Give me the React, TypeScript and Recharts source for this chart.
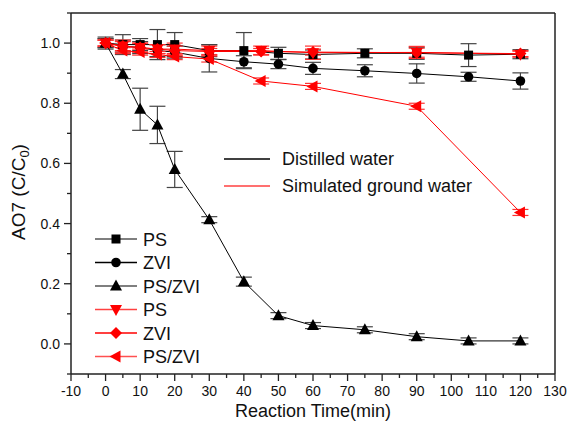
import { LineChart, Line, XAxis, YAxis, ErrorBar, ReferenceLine, Label } from 'recharts';

// reaction times (min)
const distilledTime = [0, 5, 10, 15, 20, 30, 40, 50, 60, 75, 90, 105, 120];
const groundTime = [0, 5, 10, 15, 20, 30, 45, 60, 90, 120];

// distilled water
const dwPS = [1.0, 0.995, 0.995, 0.995, 0.995, 0.975, 0.975, 0.966, 0.962, 0.966, 0.966, 0.96, 0.963];
const dwPSErr = [0.02, 0.033, 0.02, 0.05, 0.04, 0.02, 0.06, 0.02, 0.015, 0.015, 0.02, 0.038, 0.015];
const dwZVI = [1.0, 0.99, 0.985, 0.975, 0.97, 0.949, 0.938, 0.93, 0.916, 0.908, 0.899, 0.888, 0.874];
const dwZVIErr = [0.015, 0.02, 0.02, 0.02, 0.02, 0.045, 0.02, 0.015, 0.02, 0.02, 0.032, 0.015, 0.027];
const dwPSZVI = [1.0, 0.897, 0.78, 0.728, 0.58, 0.413, 0.207, 0.094, 0.061, 0.047, 0.024, 0.01, 0.01];
const dwPSZVIErr = [0.015, 0.015, 0.07, 0.062, 0.06, 0.01, 0.015, 0.01, 0.01, 0.01, 0.01, 0.01, 0.01];

// simulated ground water
const gwPS = [1.0, 0.99, 0.985, 0.98, 0.98, 0.975, 0.975, 0.968, 0.969, 0.963];
const gwPSErr = [0.01, 0.02, 0.015, 0.015, 0.02, 0.015, 0.015, 0.022, 0.02, 0.01];
const gwZVI = [1.0, 0.99, 0.985, 0.98, 0.975, 0.972, 0.972, 0.97, 0.968, 0.965];
const gwZVIErr = [0.01, 0.015, 0.015, 0.015, 0.015, 0.01, 0.01, 0.01, 0.015, 0.01];
const gwPSZVI = [1.0, 0.975, 0.97, 0.962, 0.955, 0.947, 0.874, 0.856, 0.79, 0.437];
const gwPSZVIErr = [0.01, 0.01, 0.01, 0.01, 0.01, 0.01, 0.01, 0.01, 0.01, 0.01];

const xTicks = [-10, -5, 0, 5, 10, 15, 20, 25, 30, 35, 40, 45, 50, 55, 60, 65, 70, 75, 80, 85, 90, 95, 100, 105, 110, 115, 120, 125, 130];
const yTicks = [-0.1, 0, 0.1, 0.2, 0.3, 0.4, 0.5, 0.6, 0.7, 0.8, 0.9, 1.0, 1.1];

const distilledRows = distilledTime.map((t, i) => ({
  t,
  ps: dwPS[i], psErr: dwPSErr[i],
  zvi: dwZVI[i], zviErr: dwZVIErr[i],
  pszvi: dwPSZVI[i], pszviErr: dwPSZVIErr[i],
}));

const groundRows = groundTime.map((t, i) => ({
  t,
  ps: gwPS[i], psErr: gwPSErr[i],
  zvi: gwZVI[i], zviErr: gwZVIErr[i],
  pszvi: gwPSZVI[i], pszviErr: gwPSZVIErr[i],
}));

const FONT = '"Liberation Sans", Arial, sans-serif';
const RED = '#ff0000';

type Shape = 'square' | 'circle' | 'up' | 'down' | 'diamond' | 'left';

function Marker({ shape, cx, cy, color }: { shape: Shape; cx: number; cy: number; color: string }) {
  if (cx == null || cy == null) return null;
  switch (shape) {
    case 'square':
      return <rect x={cx - 4.5} y={cy - 4.5} width={9} height={9} fill={color} />;
    case 'circle':
      return <circle cx={cx} cy={cy} r={4.8} fill={color} />;
    case 'up':
      return <polygon points={`${cx},${cy - 6.5} ${cx - 6},${cy + 4.5} ${cx + 6},${cy + 4.5}`} fill={color} />;
    case 'down':
      return <polygon points={`${cx - 6},${cy - 4.5} ${cx + 6},${cy - 4.5} ${cx},${cy + 6.5}`} fill={color} />;
    case 'diamond':
      return <polygon points={`${cx},${cy - 6} ${cx + 6},${cy} ${cx},${cy + 6} ${cx - 6},${cy}`} fill={color} />;
    case 'left':
      return <polygon points={`${cx - 6.5},${cy} ${cx + 4.5},${cy - 6} ${cx + 4.5},${cy + 6}`} fill={color} />;
  }
  return null;
}

const dotOf = (shape: Shape, color: string) => (p: any) => (
  <Marker key={`${shape}-${color}-${p.index}`} shape={shape} cx={p.cx} cy={p.cy} color={color} />
);

const XTick = (props: any) => {
  const { x, y, payload } = props;
  const v = payload.value;
  const major = v % 10 === 0;
  return (
    <g>
      <line x1={x} y1={y} x2={x} y2={y + (major ? 7 : 4)} stroke="#222" strokeWidth={1.3} />
      {major && (
        <text x={x} y={y + 22} textAnchor="middle" fontSize={14} fontFamily={FONT} fill="#111">
          {v}
        </text>
      )}
    </g>
  );
};

const YTick = (props: any) => {
  const { x, y, payload } = props;
  const v = payload.value;
  const major = Math.round(v * 10) % 2 === 0;
  return (
    <g>
      <line x1={x - (major ? 7 : 4)} y1={y} x2={x} y2={y} stroke="#222" strokeWidth={1.3} />
      {major && (
        <text x={x - 11} y={y + 5} textAnchor="end" fontSize={14} fontFamily={FONT} fill="#111">
          {v.toFixed(1)}
        </text>
      )}
    </g>
  );
};

const YTitle = () => (
  <text
    transform="translate(25,192) rotate(-90)"
    textAnchor="middle"
    fontSize={19}
    fontFamily={FONT}
    fill="#111"
  >
    AO7 (C/C<tspan fontSize={13} dy={4}>0</tspan><tspan dy={-4}>)</tspan>
  </text>
);

const legendRows: { label: string; shape: Shape; color: string; line: string }[] = [
  { label: 'PS', shape: 'square', color: '#000', line: '#555' },
  { label: 'ZVI', shape: 'circle', color: '#000', line: '#000' },
  { label: 'PS/ZVI', shape: 'up', color: '#000', line: '#555' },
  { label: 'PS', shape: 'down', color: RED, line: '#ff4040' },
  { label: 'ZVI', shape: 'diamond', color: RED, line: RED },
  { label: 'PS/ZVI', shape: 'left', color: RED, line: '#ff5050' },
];

function Legends() {
  return (
    <svg width={568} height={427} style={{ position: 'absolute', left: 0, top: 0, pointerEvents: 'none' }}>
      <line x1={224} x2={270} y1={159} y2={159} stroke="#000" strokeWidth={1.3} />
      <text x={282} y={165} fontSize={18} fontFamily={FONT} fill="#111">Distilled water</text>
      <line x1={224} x2={270} y1={186} y2={186} stroke="#ff4040" strokeWidth={1.3} />
      <text x={282} y={192} fontSize={18} fontFamily={FONT} fill="#111">Simulated ground water</text>
      {legendRows.map((r, i) => {
        const cy = 239 + i * 23.5;
        return (
          <g key={i}>
            <line x1={95} x2={137} y1={cy} y2={cy} stroke={r.line} strokeWidth={1.3} />
            <Marker shape={r.shape} cx={116} cy={cy} color={r.color} />
            <text x={143} y={cy + 6.5} fontSize={18} fontFamily={FONT} fill="#111">{r.label}</text>
          </g>
        );
      })}
    </svg>
  );
}

export default function App() {
  return (
    <div style={{ position: 'relative', width: 568, height: 427, background: '#fff', overflow: 'hidden' }}>
      <style>{'body{margin:0}'}</style>
      <LineChart width={568} height={427} margin={{ top: 13, right: 13, bottom: 0, left: 0 }}>
        <XAxis
          dataKey="t"
          type="number"
          domain={[-10, 130]}
          ticks={xTicks}
          interval={0}
          tickSize={0}
          tickMargin={0}
          tickLine={false}
          tick={<XTick />}
          height={53}
          axisLine={{ stroke: '#222', strokeWidth: 1.5 }}
          allowDataOverflow
        >
          <Label value="Reaction Time(min)" position="insideBottom" offset={10} fontSize={18} fontFamily={FONT} fill="#111" />
        </XAxis>
        <YAxis
          type="number"
          domain={[-0.1, 1.1]}
          ticks={yTicks}
          interval={0}
          tickSize={0}
          tickMargin={0}
          tickLine={false}
          tick={<YTick />}
          width={71}
          axisLine={{ stroke: '#222', strokeWidth: 1.5 }}
          allowDataOverflow
        >
          <Label content={<YTitle />} />
        </YAxis>
        <ReferenceLine x={130} stroke="#222" strokeWidth={1.5} />
        <ReferenceLine y={1.1} stroke="#222" strokeWidth={1.5} />

        <Line data={distilledRows} dataKey="ps" stroke="#000" strokeWidth={1} dot={dotOf('square', '#000')} isAnimationActive={false}>
          <ErrorBar dataKey="psErr" width={8} stroke="#444" strokeWidth={1.2} direction="y" />
        </Line>
        <Line data={distilledRows} dataKey="zvi" stroke="#000" strokeWidth={1} dot={dotOf('circle', '#000')} isAnimationActive={false}>
          <ErrorBar dataKey="zviErr" width={8} stroke="#444" strokeWidth={1.2} direction="y" />
        </Line>
        <Line data={distilledRows} dataKey="pszvi" stroke="#000" strokeWidth={1} dot={dotOf('up', '#000')} isAnimationActive={false}>
          <ErrorBar dataKey="pszviErr" width={8} stroke="#444" strokeWidth={1.2} direction="y" />
        </Line>

        <Line data={groundRows} dataKey="ps" stroke={RED} strokeWidth={1} dot={dotOf('down', RED)} isAnimationActive={false}>
          <ErrorBar dataKey="psErr" width={8} stroke="#ff3030" strokeWidth={1.2} direction="y" />
        </Line>
        <Line data={groundRows} dataKey="zvi" stroke={RED} strokeWidth={1} dot={dotOf('diamond', RED)} isAnimationActive={false}>
          <ErrorBar dataKey="zviErr" width={8} stroke="#ff3030" strokeWidth={1.2} direction="y" />
        </Line>
        <Line data={groundRows} dataKey="pszvi" stroke={RED} strokeWidth={1} dot={dotOf('left', RED)} isAnimationActive={false}>
          <ErrorBar dataKey="pszviErr" width={8} stroke="#ff3030" strokeWidth={1.2} direction="y" />
        </Line>
      </LineChart>
      <Legends />
    </div>
  );
}
